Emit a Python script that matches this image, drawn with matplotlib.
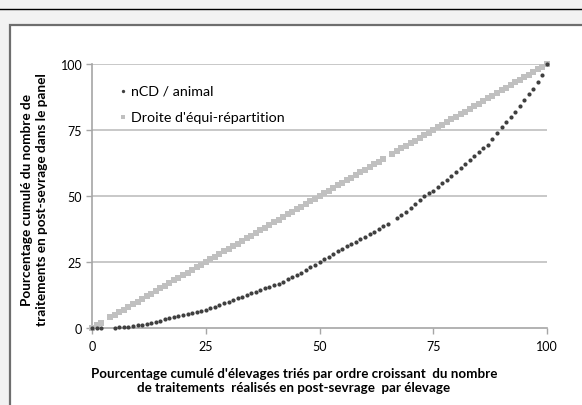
import matplotlib
matplotlib.use("Agg")
import matplotlib.pyplot as plt
from matplotlib.patches import Rectangle
from matplotlib.lines import Line2D

# cumulative % of farms (x) and cumulative % of treatments (y)
ncd_x = [0, 1, 2, 5, 6, 7, 8, 9, 10, 11, 12, 13, 14, 15, 16, 17, 18, 19, 20,
         21, 22, 23, 24, 25, 26, 27, 28, 29, 30, 31, 32, 33, 34, 35, 36, 37, 38,
         39, 40, 41, 42, 43, 44, 45, 46, 47, 48, 49, 50, 51, 52, 53, 54, 55, 56,
         57, 58, 59, 60, 61, 62, 63, 64, 65, 67, 68, 69, 70, 71, 72, 73, 74, 75,
         76, 77, 78, 79, 80, 81, 82, 83, 84, 85, 86, 87, 88, 89, 90, 91, 92, 93,
         94, 95, 96, 97, 98, 99, 100]
ncd_y = [0, 0, 0, 0.1, 0.2, 0.3, 0.5, 0.7, 1.0, 1.3, 1.6, 2.0, 2.4, 2.8, 3.3,
         3.7, 4.2, 4.6, 5.0, 5.4, 5.8, 6.2, 6.6, 7.0, 7.5, 8.0, 8.6, 9.3, 10.0,
         10.6, 11.2, 11.9, 12.5, 13.1, 13.7, 14.4, 15.0, 15.6, 16.2, 16.8, 17.6,
         18.4, 19.2, 20.0, 21.0, 22.0, 23.0, 24.0, 25.0, 26.0, 27.0, 28.0, 29.0,
         30.0, 30.9, 31.8, 32.7, 33.6, 34.5, 35.5, 36.5, 37.5, 38.5, 39.5, 41.5,
         42.8, 44.1, 45.5, 46.9, 48.4, 50.0, 51.0, 52.0, 53.4, 54.8, 56.1, 57.5,
         59.0, 60.5, 62.0, 63.5, 65.0, 66.5, 68.0, 69.5, 71.5, 73.7, 76.0, 78.0,
         80.0, 82.0, 84.2, 86.5, 88.5, 90.5, 93.0, 96.0, 100.0]

equi_x = [0, 1, 2, 4, 5, 6, 7, 8, 9, 10, 11, 12, 13, 14, 15, 16, 17, 18, 19, 20,
          21, 22, 23, 24, 25, 26, 27, 28, 29, 30, 31, 32, 33, 34, 35, 36, 37, 38,
          39, 40, 41, 42, 43, 44, 45, 46, 47, 48, 49, 50, 51, 52, 53, 54, 55, 56,
          57, 58, 59, 60, 61, 62, 63, 64, 66, 67, 68, 69, 70, 71, 72, 73, 74, 75,
          76, 77, 78, 79, 80, 81, 82, 83, 84, 85, 86, 87, 88, 89, 90, 91, 92, 93,
          94, 95, 96, 97, 98, 99, 100]
equi_y = [0, 1, 2, 4, 5, 6, 7, 8, 9, 10, 11, 12, 13, 14, 15, 16, 17, 18, 19, 20,
          21, 22, 23, 24, 25, 26, 27, 28, 29, 30, 31, 32, 33, 34, 35, 36, 37, 38,
          39, 40, 41, 42, 43, 44, 45, 46, 47, 48, 49, 50, 51, 52, 53, 54, 55, 56,
          57, 58, 59, 60, 61, 62, 63, 64, 66, 67, 68, 69, 70, 71, 72, 73, 74, 75,
          76, 77, 78, 79, 80, 81, 82, 83, 84, 85, 86, 87, 88, 89, 90, 91, 92, 93,
          94, 95, 96, 97, 98, 99, 100]

ticks = [0, 25, 50, 75, 100]
ncd_label = "nCD / animal"
equi_label = "Droite d'équi-répartition"
xlabel = ("Pourcentage cumulé d'élevages triés par ordre croissant  du nombre\n"
          "de traitements  réalisés en post-sevrage  par élevage")
ylabel = ("Pourcentage cumulé du nombre de\n"
          "traitements en post-sevrage dans le panel")

plt.rcParams['font.family'] = ['Lato', 'DejaVu Sans']

fig = plt.figure(figsize=(5.82, 4.06), dpi=100)
fig.patch.set_facecolor('#f2f2f2')

# black rule at the top and the white chart panel
fig.add_artist(Line2D([0, 1], [1 - 10 / 406, 1 - 10 / 406], color='black',
                      lw=1.0, zorder=-2))
fig.add_artist(Rectangle((10 / 582, -0.1), 1.2, 1 - 26 / 406 + 0.1,
                         facecolor='white', edgecolor='#6e6e6e', lw=1.6,
                         zorder=-2))

ax = fig.add_axes([92 / 582, 1 - 329 / 406, 455 / 582, 264 / 406])
ax.set_facecolor('white')
ax.set_xlim(0, 100)
ax.set_ylim(0, 100)

for t in ticks[1:]:
    ax.axhline(t, color='#bfbfbf', lw=1.2, zorder=1)

ax.scatter(equi_x, equi_y, s=13, marker='s', color='#c0c0c0', lw=0,
           clip_on=False, zorder=3, label=equi_label)
ax.scatter(ncd_x, ncd_y, s=9, marker='o', color='#3f3f3f', lw=0,
           clip_on=False, zorder=4, label=ncd_label)

for side in ['top', 'right']:
    ax.spines[side].set_visible(False)
for side in ['left', 'bottom']:
    ax.spines[side].set_color('#a6a6a6')
    ax.spines[side].set_linewidth(1.2)

ax.set_xticks(ticks)
ax.set_yticks(ticks)
ax.tick_params(axis='both', colors='#a6a6a6', length=4, width=1.0,
               labelcolor='black', labelsize=9)
ax.tick_params(axis='x', pad=5)
ax.tick_params(axis='y', pad=3)

fig.text(294 / 582, 1 - 381 / 406, xlabel, ha='center', va='center',
         fontsize=9.6, fontweight='bold', linespacing=1.2)
fig.text(35 / 582, 1 - 200 / 406, ylabel, ha='center', va='center',
         rotation=90, fontsize=9.8, fontweight='bold', linespacing=1.3)

handles, labels = ax.get_legend_handles_labels()
ax.legend(handles[::-1], labels[::-1], loc='upper left',
          bbox_to_anchor=(110 / 582, 1 - 80 / 406), bbox_transform=fig.transFigure,
          frameon=False, fontsize=10.3, handletextpad=0.1, labelspacing=1.0,
          markerscale=0.8, borderaxespad=0, handlelength=1.0)

fig.savefig('out.png', dpi=100, facecolor=fig.get_facecolor())
